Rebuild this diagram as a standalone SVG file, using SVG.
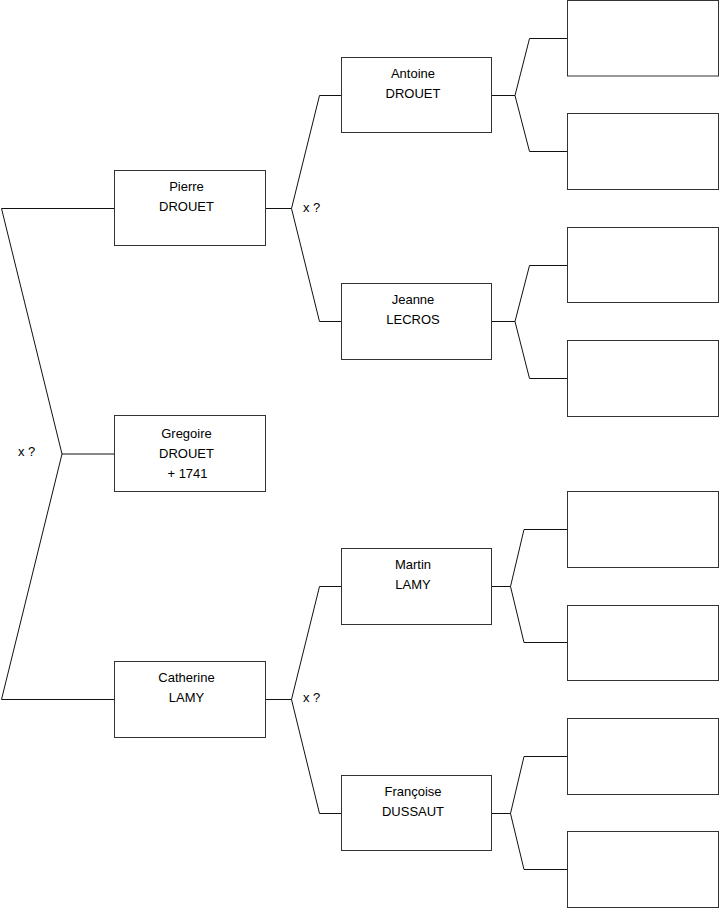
<svg xmlns="http://www.w3.org/2000/svg" width="719" height="908" viewBox="0 0 719 908">
<style>
.box{fill:#fff;stroke:#333;stroke-width:1}
.ln{fill:none;stroke:#111;stroke-width:1}
text{font-family:"Liberation Sans",Arial,sans-serif;font-size:13px;fill:#000}
.c{text-anchor:middle}
</style>
<rect width="719" height="908" fill="#fff"/>
<g id="connectors">
<path class="ln" d="M114.5,208.5 H1.5 L62,454 L1.5,699.5 H114.5 M62,454 H114.5"/>
<path class="ln" d="M265.5,208.5 H291.5 L319.5,95.5 H341.5 M291.5,208.5 L319.5,321.5 H341.5"/>
<path class="ln" d="M265.5,699.5 H291.5 L319.5,586.5 H341.5 M291.5,699.5 L319.5,813.5 H341.5"/>
<path class="ln" d="M491.5,95.5 H515 L529.5,38.5 H567.5 M515,95.5 L529.5,151.5 H567.5"/>
<path class="ln" d="M491.5,321.5 H515 L529.5,265.5 H567.5 M515,321.5 L529.5,378.5 H567.5"/>
<path class="ln" d="M491.5,586.5 H510.5 L524,529.5 H567.5 M510.5,586.5 L524,642.5 H567.5"/>
<path class="ln" d="M491.5,813.5 H510.5 L524,756.5 H567.5 M510.5,813.5 L524,869.5 H567.5"/>
<text x="18" y="456">x ?</text>
<text x="303" y="212">x ?</text>
<text x="303" y="702">x ?</text>
</g>
<g id="gregoire"><rect class="box" x="114.5" y="415.5" width="151" height="76"/>
<text class="c" x="186.5" y="438">Gregoire</text><text class="c" x="186.5" y="458">DROUET</text><text class="c" x="187.5" y="478">+ 1741</text></g>
<g id="pierre"><rect class="box" x="114.5" y="170.5" width="151" height="75"/>
<text class="c" x="186.5" y="191">Pierre</text><text class="c" x="186.5" y="211">DROUET</text></g>
<g id="catherine"><rect class="box" x="114.5" y="661.5" width="151" height="76"/>
<text class="c" x="186.5" y="682">Catherine</text><text class="c" x="186.5" y="702">LAMY</text></g>
<g id="antoine"><rect class="box" x="341.5" y="57.5" width="150" height="75"/>
<text class="c" x="413" y="78">Antoine</text><text class="c" x="413" y="98">DROUET</text></g>
<g id="jeanne"><rect class="box" x="341.5" y="283.5" width="150" height="76"/>
<text class="c" x="413" y="304">Jeanne</text><text class="c" x="413" y="324">LECROS</text></g>
<g id="martin"><rect class="box" x="341.5" y="548.5" width="150" height="76"/>
<text class="c" x="413" y="569">Martin</text><text class="c" x="413" y="589">LAMY</text></g>
<g id="francoise"><rect class="box" x="341.5" y="775.5" width="150" height="75"/>
<text class="c" x="413" y="796">Françoise</text><text class="c" x="413" y="816">DUSSAUT</text></g>
<g id="gp1"><rect class="box" x="567.5" y="0.5" width="151" height="75.5"/></g>
<g id="gp2"><rect class="box" x="567.5" y="113.5" width="151" height="76"/></g>
<g id="gp3"><rect class="box" x="567.5" y="227.5" width="151" height="75"/></g>
<g id="gp4"><rect class="box" x="567.5" y="340.5" width="151" height="76"/></g>
<g id="gp5"><rect class="box" x="567.5" y="491.5" width="151" height="76"/></g>
<g id="gp6"><rect class="box" x="567.5" y="605.5" width="151" height="75"/></g>
<g id="gp7"><rect class="box" x="567.5" y="718.5" width="151" height="76"/></g>
<g id="gp8"><rect class="box" x="567.5" y="831.5" width="151" height="76"/></g>
</svg>
